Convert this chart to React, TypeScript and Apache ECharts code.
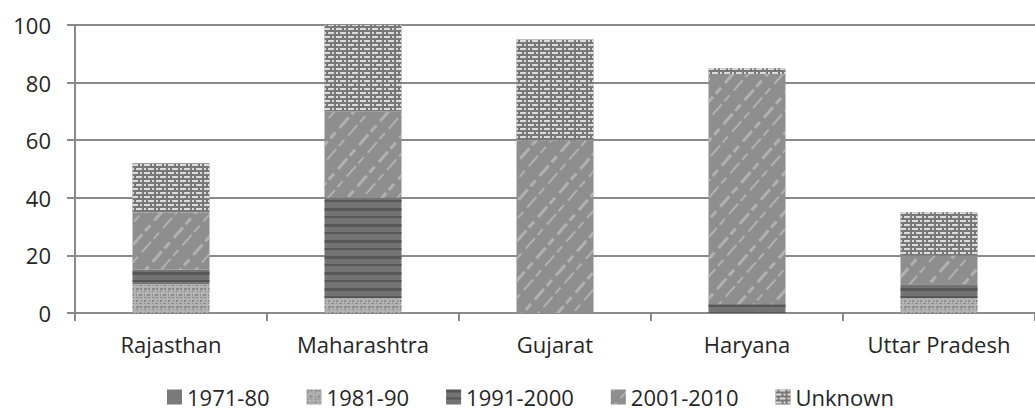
import React, { useEffect, useRef } from "react";
import * as echarts from "echarts";

const categories = ["Rajasthan", "Maharashtra", "Gujarat", "Haryana", "Uttar Pradesh"];
const seriesNames = ["1971-80", "1981-90", "1991-2000", "2001-2010", "Unknown"];
const v1971_80 = [0, 0, 0, 0, 0];
const v1981_90 = [10, 5, 0, 0, 5];
const v1991_2000 = [5, 35, 0, 3, 5];
const v2001_2010 = [20, 30, 60, 80, 10];
const vUnknown = [17, 30, 35, 2, 15];
const yTicks = { min: 0, max: 100, interval: 20 };

const FONT = "'Open Sans', 'Noto Sans', sans-serif";

export default function App() {
  const ref = useRef<HTMLDivElement>(null);
  useEffect(() => {
    document.body.style.margin = "0";
    if (!ref.current) return;
    const chart = echarts.init(ref.current, null, { renderer: "svg" });
    const values = [v1971_80, v1981_90, v1991_2000, v2001_2010, vUnknown];
    const styles: any[] = [
      { color: "#7a7a7a" },
      {
        color: "#b2b2b2",
        decal: {
          symbol: "rect",
          symbolSize: 1,
          color: "rgba(105,105,105,0.55)",
          dashArrayX: [[2, 3, 1, 2], [1, 2, 3, 2], [3, 1, 2, 2]],
          dashArrayY: [2, 1, 1, 2],
          rotation: 0,
        },
      },
      {
        color: "#737373",
        decal: {
          symbol: "rect",
          symbolSize: 1,
          color: "rgba(75,75,75,0.7)",
          dashArrayX: [1, 0],
          dashArrayY: [3, 5, 2, 6],
          rotation: 0,
        },
      },
      {
        color: "#8e8e8e",
        decal: {
          symbol: "rect",
          symbolSize: 1,
          color: "rgba(200,200,200,0.6)",
          dashArrayX: [[14, 4, 8, 6]],
          dashArrayY: [3, 9, 2, 12],
          rotation: -0.85,
        },
      },
      {
        color: "#787878",
        decal: {
          symbol: "rect",
          symbolSize: 1,
          color: "rgba(245,245,245,0.8)",
          dashArrayX: [[6, 2, 2, 2], [2, 2, 6, 2]],
          dashArrayY: [2, 2],
          rotation: 0,
        },
      },
    ];
    chart.setOption({
      animation: false,
      textStyle: { fontFamily: FONT },
      grid: { left: 75, top: 25, width: 967, height: 288 },
      legend: {
        left: 167,
        top: 386,
        padding: 0,
        itemWidth: 15,
        itemHeight: 15,
        itemGap: 37,
        icon: "rect",
        textStyle: { fontSize: 22, lineHeight: 22, color: "#262626", fontFamily: FONT },
        data: seriesNames,
      },
      xAxis: {
        type: "category",
        data: categories,
        axisLine: { lineStyle: { color: "#8a8a8a", width: 2 } },
        axisTick: { show: true, length: 8, lineStyle: { color: "#8a8a8a", width: 2 } },
        axisLabel: { fontSize: 22, color: "#262626", margin: 20, fontFamily: FONT },
      },
      yAxis: {
        type: "value",
        min: yTicks.min,
        max: yTicks.max,
        interval: yTicks.interval,
        axisLine: { show: true, lineStyle: { color: "#8a8a8a", width: 2 } },
        axisTick: { show: true, length: 8, lineStyle: { color: "#8a8a8a", width: 2 } },
        splitLine: { show: true, lineStyle: { color: "#8a8a8a", width: 2 } },
        axisLabel: { fontSize: 22, color: "#262626", margin: 24, fontFamily: FONT },
      },
      series: seriesNames.map((name, i) => ({
        name,
        type: "bar",
        stack: "total",
        barWidth: 77,
        data: values[i],
        itemStyle: styles[i],
      })),
    });
    return () => chart.dispose();
  }, []);
  return <div ref={ref} style={{ position: "absolute", left: 0, top: 0, width: 1035, height: 413 }} />;
}
